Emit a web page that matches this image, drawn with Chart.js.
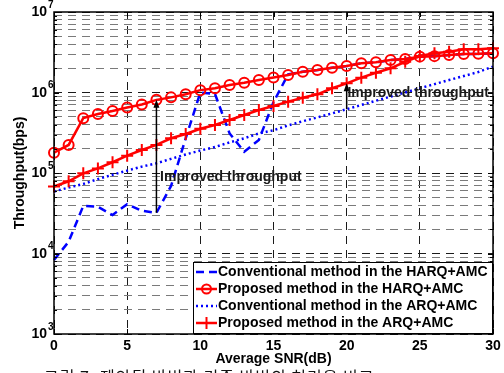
<!DOCTYPE html>
<html>
<head>
<meta charset="utf-8">
<script src="https://cdn.jsdelivr.net/npm/chart.js"></script>
<style>
  html, body { margin: 0; padding: 0; background: #fff; overflow: hidden; }
  #wrap { position: relative; width: 504px; height: 373px; overflow: hidden; }
  canvas { display: block; }
  .caption {
    position: absolute; left: 44px; top: 368px;
    font-family: 'Noto Sans CJK KR', sans-serif; font-size: 16px; line-height: 1;
    letter-spacing: 1px; color: #111; white-space: nowrap;
  }
</style>
</head>
<body>
<div id="wrap">
  <canvas id="chart" width="504" height="373"></canvas>
  <div class="caption">그림 7. 제안된 방법과 기존 방법의 처리율 비교</div>
</div>

<script>
// x axis: average SNR (dB)
const snr = [0, 1, 2, 3, 4, 5, 6, 7, 8, 9, 10, 11, 12, 13, 14, 15, 16, 17, 18, 19, 20, 21, 22, 23, 24, 25, 26, 27, 28, 29, 30];

// throughput (bps)
const convHarq = [8.3e3, 1.4e4, 3.9e4, 3.8e4, 3.0e4, 4.1e4, 3.4e4, 3.2e4, 6.9e4, 2.7e5, 1.0e6,
  9.6e5, 3.1e5, 1.84e5, 2.57e5, 7.6e5, 1.68e6, 1.81e6, 1.9e6, 2.03e6, 2.13e6,
  2.31e6, 2.37e6, 2.53e6, 2.61e6, 2.79e6, 2.83e6, 2.92e6, 3.0e6, 3.02e6, 3.07e6];
const propHarq = [1.79e5, 2.23e5, 4.8e5, 5.4e5, 5.9e5, 6.5e5, 7.1e5, 8.1e5, 8.7e5, 9.5e5, 1.07e6,
  1.13e6, 1.24e6, 1.32e6, 1.43e6, 1.54e6, 1.65e6, 1.81e6, 1.9e6, 2.03e6, 2.13e6,
  2.31e6, 2.37e6, 2.53e6, 2.61e6, 2.79e6, 2.83e6, 2.92e6, 3.0e6, 3.02e6, 3.07e6];
const convArq = [5.9e4, 6.6e4, 7.3e4, 8.4e4, 9.5e4, 1.07e5, 1.2e5, 1.32e5, 1.5e5, 1.7e5, 1.9e5,
  2.1e5, 2.4e5, 2.7e5, 3.1e5, 3.4e5, 3.9e5, 4.4e5, 4.9e5, 5.5e5, 6.2e5,
  7.0e5, 7.9e5, 8.9e5, 1.0e6, 1.13e6, 1.27e6, 1.43e6, 1.6e6, 1.8e6, 2.1e6];
const propArq = [6.8e4, 7.9e4, 9.9e4, 1.14e5, 1.36e5, 1.64e5, 1.93e5, 2.23e5, 2.7e5, 3.05e5, 3.55e5,
  3.95e5, 4.55e5, 5.25e5, 6.06e5, 6.8e5, 7.7e5, 8.6e5, 9.5e5, 1.13e6, 1.3e6,
  1.53e6, 1.76e6, 2.0e6, 2.41e6, 2.84e6, 3.07e6, 3.21e6, 3.44e6, 3.44e6, 3.54e6];

const seriesLabels = [
  'Conventional method in the HARQ+AMC',
  'Proposed method in the HARQ+AMC',
  'Conventional method in the ARQ+AMC',
  'Proposed method in the ARQ+AMC'
];

// ticks
const xTicks = [0, 5, 10, 15, 20, 25, 30];
const yDecades = [1e3, 1e4, 1e5, 1e6, 1e7];
const yMinorSteps = [2, 3, 4, 5, 6, 7, 8, 9];

// annotations: arrow at an SNR index, from the lower curve up to the upper one
const arrowIdx = [7, 20];
const arrowFrom = [convHarq, convArq];
const arrowTo = [propHarq, propArq];
const noteText = ['Improved throughput', 'Improved throughput'];
const noteX = [7.25, 20.05];
const noteY = [8.9e4, 9.9e5];

const FONT = '"Liberation Sans", Arial, sans-serif';

const toPoints = arr => snr.map((s, i) => ({ x: s, y: arr[i] }));

// y grid: every 1..9 x 10^n
const yGridValues = [];
yDecades.forEach((d, i) => {
  yGridValues.push(d);
  if (i < yDecades.length - 1) yMinorSteps.forEach(m => yGridValues.push(m * d));
});
const isDecade = v => Math.abs(Math.log10(v) - Math.round(Math.log10(v))) < 1e-6;

const decorations = {
  id: 'decorations',
  afterDatasetsDraw(chart) {
    const { ctx, scales: { x, y } } = chart;
    ctx.save();

    // arrows
    ctx.strokeStyle = '#000';
    ctx.fillStyle = '#000';
    ctx.lineWidth = 1.5;
    arrowIdx.forEach((idx, k) => {
      const px = x.getPixelForValue(snr[idx]);
      const y0 = y.getPixelForValue(arrowFrom[k][idx]);
      const y1 = y.getPixelForValue(arrowTo[k][idx]);
      ctx.beginPath();
      ctx.moveTo(px, y0);
      ctx.lineTo(px, y1 + 6);
      ctx.stroke();
      ctx.beginPath();
      ctx.moveTo(px, y1);
      ctx.lineTo(px - 3, y1 + 8);
      ctx.lineTo(px + 3, y1 + 8);
      ctx.closePath();
      ctx.fill();
    });

    // notes
    ctx.font = 'bold 14px ' + FONT;
    ctx.textAlign = 'left';
    ctx.textBaseline = 'middle';
    ctx.fillStyle = '#1a1a1a';
    noteText.forEach((t, k) => {
      ctx.fillText(t, x.getPixelForValue(noteX[k]), y.getPixelForValue(noteY[k]));
    });
    ctx.restore();
  },
  afterDraw(chart) {
    const { ctx, chartArea: a, scales: { x, y } } = chart;
    ctx.save();

    // inward tick marks
    ctx.strokeStyle = '#000';
    ctx.lineWidth = 1;
    xTicks.forEach(v => {
      const px = Math.round(x.getPixelForValue(v)) + 0.5;
      ctx.beginPath();
      ctx.moveTo(px, a.bottom); ctx.lineTo(px, a.bottom - 5);
      ctx.moveTo(px, a.top); ctx.lineTo(px, a.top + 5);
      ctx.stroke();
    });
    yGridValues.forEach(v => {
      const py = Math.round(y.getPixelForValue(v)) + 0.5;
      const len = isDecade(v) ? 5 : 3;
      ctx.beginPath();
      ctx.moveTo(a.left, py); ctx.lineTo(a.left + len, py);
      ctx.moveTo(a.right, py); ctx.lineTo(a.right - len, py);
      ctx.stroke();
    });

    // frame
    ctx.lineWidth = 1.5;
    ctx.strokeRect(a.left, a.top, a.right - a.left, a.bottom - a.top);

    // x tick labels
    ctx.fillStyle = '#000';
    ctx.font = 'bold 14px ' + FONT;
    ctx.textAlign = 'center';
    ctx.textBaseline = 'middle';
    xTicks.forEach(v => ctx.fillText(String(v), x.getPixelForValue(v), a.bottom + 12));

    // y tick labels 10^n
    yDecades.forEach(v => {
      const py = y.getPixelForValue(v);
      ctx.font = 'bold 14px ' + FONT;
      ctx.textAlign = 'right';
      ctx.fillText('10', a.left - 7, py + 0.5);
      ctx.font = 'bold 10px ' + FONT;
      ctx.textAlign = 'left';
      ctx.fillText(String(Math.round(Math.log10(v))), a.left - 6, py - 7);
    });

    // axis titles
    ctx.font = 'bold 14px ' + FONT;
    ctx.textAlign = 'center';
    ctx.fillText('Average SNR(dB)', (a.left + a.right) / 2, a.bottom + 25);
    ctx.save();
    ctx.translate(20, (a.top + a.bottom) / 2);
    ctx.rotate(-Math.PI / 2);
    ctx.fillText('Throughput(bps)', 0, 0);
    ctx.restore();

    // legend box, bottom right inside the plot
    const w = 300, h = 72;
    const lx = a.right - w, ly = a.bottom - h;
    ctx.fillStyle = '#fff';
    ctx.fillRect(lx, ly, w, h);
    ctx.strokeStyle = '#000';
    ctx.lineWidth = 1;
    ctx.strokeRect(lx + 0.5, ly + 0.5, w - 1, h - 1);
    chart.data.datasets.forEach((ds, i) => {
      const ry = ly + 10 + i * 17;
      ctx.save();
      ctx.strokeStyle = ds.borderColor;
      ctx.lineWidth = ds.borderWidth;
      ctx.setLineDash(ds.borderDash || []);
      ctx.beginPath();
      ctx.moveTo(lx + 3, ry);
      ctx.lineTo(lx + 24, ry);
      ctx.stroke();
      ctx.setLineDash([]);
      ctx.lineWidth = 2;
      if (ds.pointStyle === 'circle') {
        ctx.beginPath();
        ctx.arc(lx + 13.5, ry, 4.5, 0, Math.PI * 2);
        ctx.stroke();
      } else if (ds.pointStyle === 'cross') {
        ctx.beginPath();
        ctx.moveTo(lx + 13.5, ry - 6); ctx.lineTo(lx + 13.5, ry + 6);
        ctx.stroke();
      }
      ctx.restore();
      ctx.fillStyle = '#000';
      ctx.font = 'bold 14px ' + FONT;
      ctx.textAlign = 'left';
      ctx.textBaseline = 'middle';
      ctx.fillText(ds.label, lx + 25, ry + 0.5);
    });
    ctx.restore();
  }
};

new Chart(document.getElementById('chart'), {
  type: 'line',
  data: {
    datasets: [
      {
        label: seriesLabels[0],
        data: toPoints(convHarq),
        borderColor: '#0000ff',
        borderWidth: 2.5,
        borderDash: [8, 5],
        pointRadius: 0,
        order: 4
      },
      {
        label: seriesLabels[1],
        data: toPoints(propHarq),
        borderColor: '#ff0000',
        borderWidth: 2.5,
        pointStyle: 'circle',
        pointRadius: 5,
        pointBorderWidth: 2,
        pointBorderColor: '#ff0000',
        pointBackgroundColor: 'rgba(0,0,0,0)',
        order: 3
      },
      {
        label: seriesLabels[2],
        data: toPoints(convArq),
        borderColor: '#0000ff',
        borderWidth: 2.5,
        borderDash: [2, 3],
        pointRadius: 0,
        order: 2
      },
      {
        label: seriesLabels[3],
        data: toPoints(propArq),
        borderColor: '#ff0000',
        borderWidth: 2.5,
        pointStyle: 'cross',
        pointRadius: 6,
        pointBorderWidth: 2,
        pointBorderColor: '#ff0000',
        order: 1
      }
    ]
  },
  options: {
    responsive: false,
    animation: false,
    devicePixelRatio: 1,
    clip: 8,
    layout: { padding: { left: 0, right: 11, top: 12, bottom: 0 } },
    plugins: {
      legend: { display: false },
      tooltip: { enabled: false }
    },
    elements: { line: { tension: 0 } },
    scales: {
      x: {
        type: 'linear',
        min: 0,
        max: 30,
        afterBuildTicks: scale => { scale.ticks = xTicks.map(v => ({ value: v })); },
        afterFit: scale => { scale.height = 39; },
        ticks: { display: false },
        grid: { color: '#1a1a1a', lineWidth: 1, drawTicks: false },
        border: { display: false, dash: [8, 6] }
      },
      y: {
        type: 'logarithmic',
        min: 1e3,
        max: 1e7,
        afterBuildTicks: scale => { scale.ticks = yGridValues.map(v => ({ value: v })); },
        afterFit: scale => { scale.width = 54; },
        ticks: { display: false },
        grid: {
          color: c => (c.tick && isDecade(c.tick.value)) ? '#1a1a1a' : '#7a7a7a',
          lineWidth: 1,
          drawTicks: false
        },
        border: { display: false, dash: [8, 6] }
      }
    }
  },
  plugins: [decorations]
});
</script>
</body>
</html>
